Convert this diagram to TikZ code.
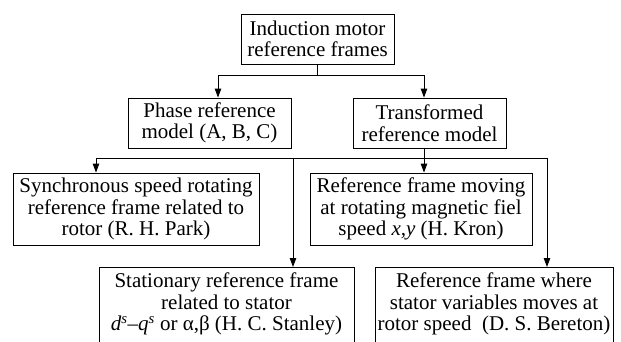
\documentclass[tikz,border=0pt]{standalone}
\usepackage{fontspec}
\setmainfont{Liberation Serif}
\usetikzlibrary{arrows.meta}
\begin{document}
\begin{tikzpicture}[x=1pt,y=-1pt,
  box/.style={draw, line width=0.9pt, inner sep=0pt, align=center,
    font=\fontsize{21}{21.5}\selectfont},
  txt/.style={inner sep=0pt, align=center, font=\fontsize{21}{21.5}\selectfont},
  conn/.style={line width=0.9pt},
  arr/.style={conn, -{Triangle[length=9pt,width=6.5pt]}}]
\useasboundingbox (0,0) rectangle (621,341);
\clip (0,0) rectangle (621,341);
% boxes
\node[box, minimum width=153, minimum height=50] (top) at (317.5,39)
  {Induction motor\\reference frames};
\node[box, minimum width=163, minimum height=50] (phase) at (209.5,123)
  {Phase reference\\model (A, B, C)};
\node[box, minimum width=153, minimum height=50] (trans) at (429.5,123)
  {Transformed\\reference model};
\node[box, minimum width=246, minimum height=72] (sync) at (136,209)
  {Synchronous speed rotating\\reference frame related to\\rotor (R. H. Park)};
\node[box, minimum width=222, minimum height=72] (kron) at (421,209)
  {Reference frame moving\\at rotating magnetic fiel\\speed \textit{x,y} (H. Kron)};
\node[draw, line width=0.9pt, minimum width=255, minimum height=90, anchor=north] (stat) at (226.5,267) {};
\node[txt] (stattext) at (226.5,304)
  {Stationary reference frame\\related to stator\\\textit{d}\textsuperscript{\textit{s}}–\textit{q}\textsuperscript{\textit{s}} or α,β (H. C. Stanley)};
\node[draw, line width=0.9pt, minimum width=238, minimum height=90, anchor=north] (ber) at (494,267) {};
\node[txt] (bertext) at (494,304)
  {Reference frame where\\stator variables moves at\\rotor speed~ (D. S. Bereton)};
% junctions
\coordinate (j0) at (317.5,75);
\coordinate (jl) at (218,75);
\coordinate (jr) at (424,75);
\coordinate (k1) at (96,158);
\coordinate (k2) at (293,158);
\coordinate (k3) at (547,158);
% connectors
\draw[conn] (top.south) -- (j0);
\draw[conn] (jl) -- (jr);
\draw[arr] (jl) -- (jl |- phase.north);
\draw[arr] (jr) -- (jr |- trans.north);
\draw[conn] (k1) -- (k3);
\draw[arr] (k1) -- (k1 |- sync.north);
\draw[arr] (k2) -- (k2 |- stat.north);
\draw[arr] (jr |- trans.south) -- (jr |- kron.north);
\draw[arr] (k3) -- (k3 |- ber.north);
\end{tikzpicture}
\end{document}
